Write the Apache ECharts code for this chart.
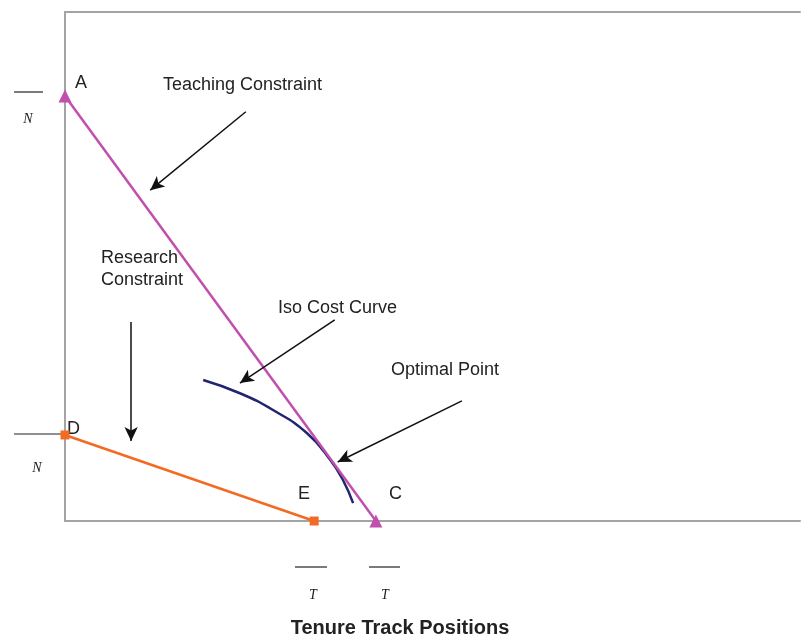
<!DOCTYPE html>
<html><head><meta charset="utf-8">
<script src="https://cdn.jsdelivr.net/npm/echarts@6/dist/echarts.min.js"></script>
<style>html,body{margin:0;padding:0;background:#fff}#c{width:801px;height:638px}</style>
</head><body><div id="c"></div>
<script>
// Data (chart units: x 0..100, y 0..100)
var teachingX = [0, 42.3];
var teachingY = [83.5, 0];
var researchX = [0, 33.9];
var researchY = [16.9, 0];
var isoX = [18.8, 23.8, 28.3, 32.9, 36.1, 37.8, 39.2];
var isoY = [27.7, 25.1, 21.8, 17.3, 12.0, 8.1, 3.5];
var arrowFrom = [[24.6, 80.4], [9.0, 39.1], [36.7, 39.5], [54.0, 23.6]];
var arrowTo = [[11.6, 65.0], [9.0, 15.7], [23.8, 27.1], [37.1, 11.6]];

function pairs(xs, ys){ return xs.map(function(x,i){ return [x, ys[i]]; }); }

var chart = echarts.init(document.getElementById('c'));
var axisLineStyle = {show:true, onZero:false, lineStyle:{color:'#a4a4a4', width:2}};
var txt = 'Liberation Sans, Arial, sans-serif';
var serif = 'Liberation Serif, Times New Roman, serif';
function label(t, x, y, opts){
  opts = opts || {};
  return {type:'text', x:x, y:y, style:{text:t, fill:'#222', font:(opts.font||('18px '+txt)), textAlign:opts.align||'left', textVerticalAlign:'middle'}};
}
function hline(x1, x2, y, color){
  return {type:'line', shape:{x1:x1, y1:y, x2:x2, y2:y}, style:{stroke:color||'#222', lineWidth:1.2}};
}
var option = {
  animation:false,
  grid:{left:65, right:1, top:12, bottom:117},
  xAxis:[
    {type:'value', min:0, max:100, axisLine:axisLineStyle, axisTick:{show:false}, axisLabel:{show:false}, splitLine:{show:false}},
    {type:'value', min:0, max:100, position:'top', axisLine:axisLineStyle, axisTick:{show:false}, axisLabel:{show:false}, splitLine:{show:false}}
  ],
  yAxis:{type:'value', min:0, max:100, axisLine:axisLineStyle, axisTick:{show:false}, axisLabel:{show:false}, splitLine:{show:false}},
  series:[
    {type:'line', data:pairs(teachingX, teachingY), symbol:'triangle', symbolSize:13, itemStyle:{color:'#c04fae'}, lineStyle:{color:'#c04fae', width:2.5}, z:3},
    {type:'line', data:pairs(researchX, researchY), symbol:'rect', symbolSize:9, itemStyle:{color:'#f26a24'}, lineStyle:{color:'#f26a24', width:2.5}, z:3},
    {type:'line', data:pairs(isoX, isoY), smooth:true, showSymbol:false, symbol:'none', lineStyle:{color:'#22246e', width:2.5}, z:2},
    {type:'line', data:[], markLine:{silent:true, symbol:['none','arrow'], symbolSize:[10,14], label:{show:false},
      lineStyle:{color:'#111', width:1.5, type:'solid'},
      data: arrowFrom.map(function(f,i){ return [{coord:f}, {coord:arrowTo[i]}]; })}}
  ],
  graphic:[
    label('A', 75, 83),
    label('Teaching Constraint', 163, 85),
    label('Research', 101, 258),
    label('Constraint', 101, 280),
    label('Iso Cost Curve', 278, 308),
    label('Optimal Point', 391, 370),
    label('D', 67, 429),
    label('E', 298, 494),
    label('C', 389, 494),
    label('Tenure Track Positions', 400, 628, {font:'bold 20px '+txt, align:'center'}),
    label('N', 28, 119, {font:'italic 14px '+serif, align:'center'}),
    label('N', 37, 468, {font:'italic 14px '+serif, align:'center'}),
    label('T', 313, 595, {font:'italic 14px '+serif, align:'center'}),
    label('T', 385, 595, {font:'italic 14px '+serif, align:'center'}),
    hline(14, 43, 92),
    hline(14, 65, 434),
    hline(295, 327, 567),
    hline(369, 400, 567)
  ]
};
chart.setOption(option);
</script></body></html>
